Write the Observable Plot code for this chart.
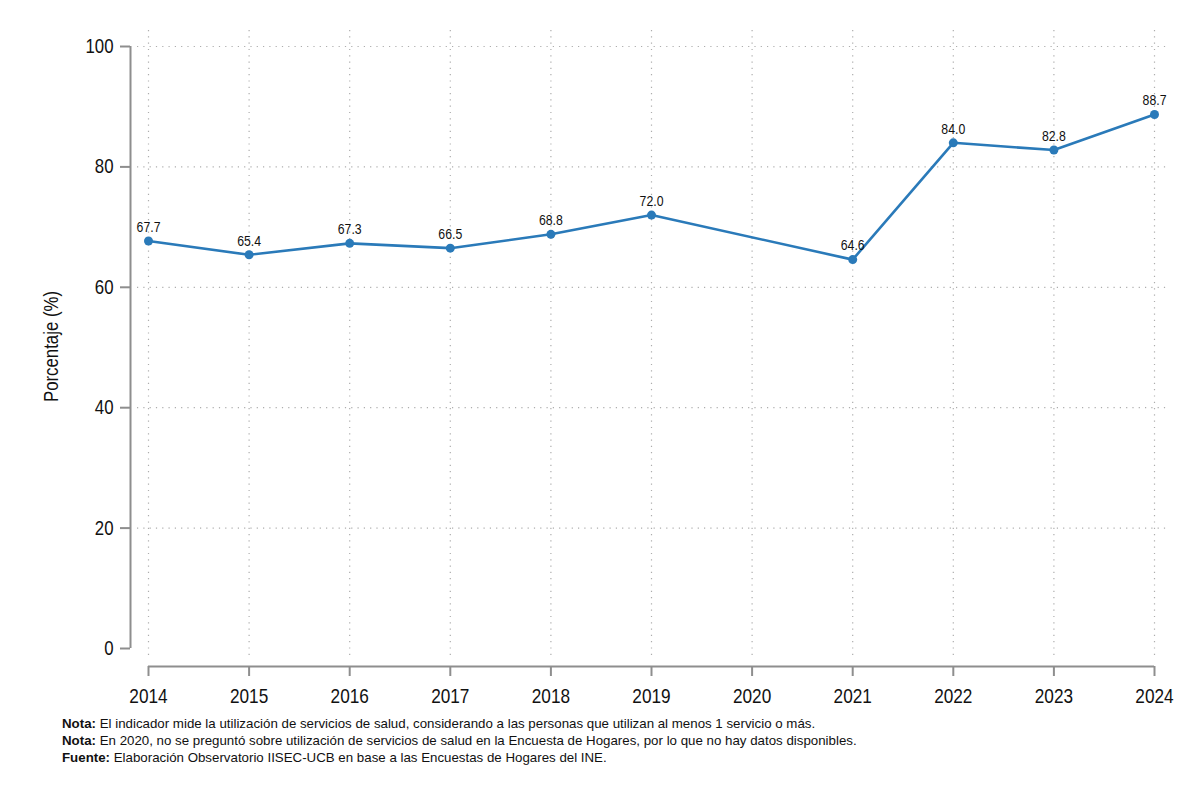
<!DOCTYPE html>
<html>
<head>
<meta charset="utf-8">
<script src="https://cdn.jsdelivr.net/npm/d3@7"></script>
<script src="https://cdn.jsdelivr.net/npm/@observablehq/plot@0.6"></script>
<style>
  html, body { margin: 0; padding: 0; background: #fff; }
  #chart svg { display: block; }
  .notes {
    margin: 3px 0 0 62px;
    font-family: "Liberation Sans", Arial, sans-serif;
    font-size: 13.3px;
    line-height: 17px;
    color: #111;
  }
  .notes b { font-weight: bold; }
</style>
</head>
<body>
<div id="chart"></div>
<div class="notes">
  <div><b>Nota:</b> El indicador mide la utilización de servicios de salud, considerando a las personas que utilizan al menos 1 servicio o más.</div>
  <div><b>Nota:</b> En 2020, no se preguntó sobre utilización de servicios de salud en la Encuesta de Hogares, por lo que no hay datos disponibles.</div>
  <div><b>Fuente:</b> Elaboración Observatorio IISEC-UCB en base a las Encuestas de Hogares del INE.</div>
</div>
<script>
// Survey years shown on the axis (2020 has no data)
const years = [2014, 2015, 2016, 2017, 2018, 2019, 2020, 2021, 2022, 2023, 2024];
// Years with observations and their percentages
const dataYears = [2014, 2015, 2016, 2017, 2018, 2019, 2021, 2022, 2023, 2024];
const values = [67.7, 65.4, 67.3, 66.5, 68.8, 72.0, 64.6, 84.0, 82.8, 88.7];
// Y axis ticks and gridlines
const yTicks = [0, 20, 40, 60, 80, 100];
const gridTicks = [20, 40, 60, 80, 100];
const yTitle = "Porcentaje (%)";

const data = dataYears.map((year, i) => ({year, value: values[i]}));

const font = "'Liberation Sans', Arial, sans-serif";
const blue = "#2a7ab9";
const axisGray = "#8e8e8e";
const gridGray = "#adadad";

const chart = Plot.plot({
  width: 1200,
  height: 712,
  marginLeft: 130,
  marginRight: 0,
  marginTop: 0,
  marginBottom: 46,
  style: {fontFamily: font, background: "#fff", color: "#111"},
  x: {type: "linear", domain: [years[0], years[years.length - 1]], range: [148, 1154]},
  y: {domain: [0, 100], range: [648, 46]},
  marks: [
    // dotted gridlines
    Plot.ruleY(gridTicks, {
      x1: years[0], x2: years[years.length - 1],
      insetLeft: -11, insetRight: -14,
      stroke: gridGray, strokeWidth: 1.2, strokeDasharray: "1.2,5.1"
    }),
    Plot.ruleX(years, {
      y1: 100, y2: 0, insetTop: -16, insetBottom: -12,
      stroke: gridGray, strokeWidth: 1.2, strokeDasharray: "1.2,5.1"
    }),
    // axis lines
    Plot.ruleX([years[0]], {y1: 0, y2: 100, dx: -18, stroke: axisGray, strokeWidth: 2}),
    Plot.ruleY([0], {x1: years[0], x2: years[years.length - 1], dy: 18, stroke: axisGray, strokeWidth: 2}),
    Plot.axisY(yTicks, {
      anchor: "left", tickSize: 10, tickPadding: 7, fontSize: 20.5,
      stroke: axisGray, strokeWidth: 2, fill: "#111", label: null
    }),
    Plot.text([yTitle], {
      frameAnchor: "left", rotate: -90, dx: -79, dy: 13,
      fontSize: 20.5, fill: "#111", textAnchor: "middle", lineAnchor: "middle"
    }),
    Plot.axisX(years, {
      anchor: "bottom", tickSize: 10, tickPadding: 12, fontSize: 21,
      stroke: axisGray, strokeWidth: 2, fill: "#111",
      tickFormat: d => String(d), label: null
    }),
    // series
    Plot.line(data, {x: "year", y: "value", stroke: blue, strokeWidth: 2.6}),
    Plot.dot(data, {x: "year", y: "value", r: 4.5, fill: blue, stroke: "none"}),
    Plot.text(data, {
      x: "year", y: "value", text: d => d.value.toFixed(1),
      dy: -14, fontSize: 15, fill: "#111"
    })
  ]
});

// condensed lettering: squeeze every label along its own baseline
chart.querySelectorAll("text").forEach(t => {
  const tr = t.getAttribute("transform") || "";
  if (tr) {
    t.setAttribute("transform", tr + " scale(0.82,1)");
  } else {
    const x = +(t.getAttribute("x") || 0);
    t.setAttribute("transform", `translate(${x},0) scale(0.82,1) translate(${-x},0)`);
  }
});

document.getElementById("chart").appendChild(chart);
</script>
</body>
</html>
